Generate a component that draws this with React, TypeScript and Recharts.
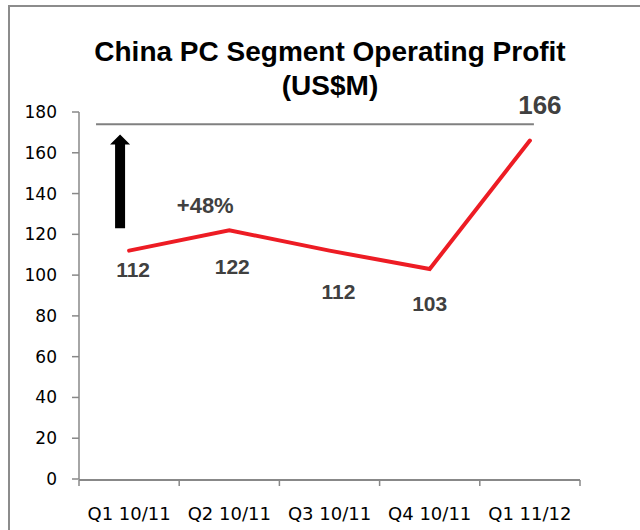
import { LineChart, Line, XAxis, YAxis, ReferenceLine, ReferenceArea, ReferenceDot, LabelList } from 'recharts';

const quarters = ['Q1 10/11', 'Q2 10/11', 'Q3 10/11', 'Q4 10/11', 'Q1 11/12'];
const profit = [112, 122, 112, 103, 166];
const yTicks = [0, 20, 40, 60, 80, 100, 120, 140, 160, 180];
const boundaryTicks = [0, 1, 2, 3, 4, 5];
const targetLevel = 174;
const arrowFrom = 123;
const arrowTo = 169;
const growthText = '+48%';

// label nudges per point (dx, dy) in px
const labelShift = [[4, 19], [3, 36], [9, 41], [0, 35], [10, -36]];

const data = quarters.map((q, i) => ({ quarter: q, pos: i + 0.5, profit: profit[i] }));

const sans = 'Liberation Sans, Arial, Helvetica, sans-serif';

const renderLabel = (props: any) => {
  const { x, y, value, index } = props;
  const [dx, dy] = labelShift[index] || [0, 20];
  const big = index === profit.length - 1;
  return (
    <text x={x + dx} y={y + dy} textAnchor="middle" dominantBaseline="central"
      fontSize={big ? 26 : 21} fontWeight="bold" fill="#404040" fontFamily={sans}>
      {value}
    </text>
  );
};

const Arrow = (props: any) => {
  const { x, y, width, height } = props;
  const cx = x + width / 2;
  const head = 10;
  const shaft = 5;
  const pts = [
    [cx, y],
    [x + width, y + head],
    [cx + shaft, y + head],
    [cx + shaft, y + height],
    [cx - shaft, y + height],
    [cx - shaft, y + head],
    [x, y + head],
  ].map(p => p.join(',')).join(' ');
  return <polygon points={pts} fill="#000" />;
};

const GrowthLabel = (props: any) => (
  <text x={props.cx} y={props.cy} textAnchor="middle" dominantBaseline="central"
    fontSize={22} fontWeight="bold" fill="#404040" fontFamily={sans}>
    {growthText}
  </text>
);

export default function App() {
  return (
    <div style={{ position: 'fixed', left: 0, top: 0, width: 640, height: 530, background: '#fff', overflow: 'hidden' }}>
      <div style={{
        position: 'absolute', left: 0, top: 35, width: 660, textAlign: 'center',
        fontFamily: sans, fontWeight: 'bold', fontSize: 28, lineHeight: '33.5px', color: '#000'
      }}>
        China PC Segment Operating Profit<br />(US$M)
      </div>
      <div style={{ position: 'absolute', left: 0, top: 0 }}>
        <LineChart width={640} height={530} data={data} margin={{ top: 112, right: 60, left: 0, bottom: 1 }}>
          <XAxis dataKey="quarter" scale="band" height={1} axisLine={false} tickLine={false} tickSize={6} tickMargin={22}
            interval={0} tick={{ fill: '#000', fontSize: 18, fontFamily: 'DejaVu Sans' }} />
          <XAxis xAxisId="num" dataKey="pos" type="number" domain={[0, 5]} ticks={boundaryTicks}
            height={49} tick={() => null} tickSize={6} tickLine={{ stroke: '#888', strokeWidth: 1.5 }}
            axisLine={{ stroke: '#888', strokeWidth: 2 }} allowDataOverflow />
          <YAxis domain={[0, 180]} ticks={yTicks} width={79} tickSize={7} tickMargin={15} interval={0}
            axisLine={{ stroke: '#888', strokeWidth: 1.5 }} tickLine={{ stroke: '#888', strokeWidth: 1.5 }}
            tick={{ fill: '#000', fontSize: 17, fontFamily: 'DejaVu Sans' }} />
          <ReferenceLine xAxisId="num" segment={[{ x: 0.17, y: targetLevel }, { x: 4.54, y: targetLevel }]}
            stroke="#808080" strokeWidth={2} ifOverflow="visible" />
          <ReferenceArea xAxisId="num" x1={0.31} x2={0.51} y1={arrowFrom} y2={arrowTo}
            shape={<Arrow />} ifOverflow="visible" />
          <ReferenceDot xAxisId="num" x={1.26} y={134} r={0} shape={<GrowthLabel />} ifOverflow="visible" />
          <Line dataKey="profit" stroke="#ed1c24" strokeWidth={4} strokeLinecap="round"
            dot={false} activeDot={false} isAnimationActive={false}>
            <LabelList dataKey="profit" content={renderLabel} />
          </Line>
        </LineChart>
      </div>
      {/* frame: left and top edges only, the rest runs off the page */}
      <div style={{ position: 'absolute', left: 8, top: 5, width: 2, height: 530, background: '#8c8c8c', zIndex: 2 }} />
      <div style={{ position: 'absolute', left: 8, top: 5, width: 640, height: 2, background: '#8c8c8c', zIndex: 2 }} />
    </div>
  );
}
